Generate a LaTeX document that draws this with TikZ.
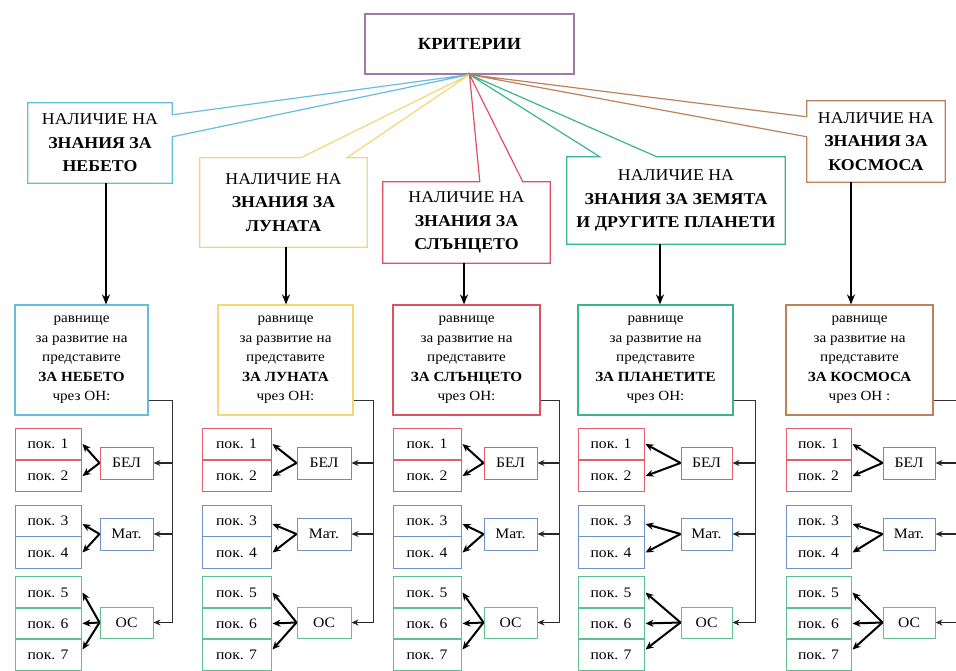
\documentclass[tikz,border=0pt]{standalone}
\usepackage{fontspec}
\setmainfont[FakeStretch=1.08]{Liberation Serif}
\usetikzlibrary{arrows.meta,calc}
\definecolor{ctop}{HTML}{A078AA}
\definecolor{cbl}{HTML}{64BEDC}
\definecolor{cye}{HTML}{F5D778}
\definecolor{cre}{HTML}{E05064}
\definecolor{cgr}{HTML}{3CB48C}
\definecolor{cbr}{HTML}{BE825A}
\definecolor{pre}{HTML}{E0606E}
\definecolor{pbl}{HTML}{7090C8}
\definecolor{pgr}{HTML}{60C090}
\tikzset{
  topbox/.style={draw=ctop, line width=1.1pt, minimum width=209pt, minimum height=60pt, font=\fontsize{17}{20}\selectfont\bfseries},
  critn/.style={align=center, inner sep=0pt, font=\fontsize{16.5}{23.5}\selectfont},
  critline/.style={line width=1.2pt},
  lev/.style={draw, line width=1.2pt, fill=white, align=center, inner sep=0pt, minimum height=110pt, font=\fontsize{14}{19.5}\selectfont},
  pok/.style={draw, line width=1pt, inner sep=0pt, minimum height=31.5pt, font=\fontsize{14.5}{16}\selectfont},
  subj/.style={draw, line width=1pt, inner sep=0pt, font=\fontsize{14.5}{16}\selectfont},
  varrow/.style={line width=2.2pt, -{Stealth[length=10pt,width=8pt]}},
  trunk/.style={line width=1pt, draw=black!80},
  tarrow/.style={line width=1.2pt, draw=black!85, -{Stealth[length=7pt,width=6pt]}},
  fan/.style={line width=2pt, -{Stealth[length=8pt,width=7pt]}}
}
\newcommand\lowcol[6]{%
  \node[pok, draw=pre, minimum width=#3pt] (p#1a) at ({#2+#3/2},444) {пок. 1};
  \node[pok, draw=pre, minimum width=#3pt] (p#1b) at ({#2+#3/2},476) {пок. 2};
  \node[pok, draw=pbl, minimum width=#3pt] (p#1c) at ({#2+#3/2},521) {пок. 3};
  \node[pok, draw=pbl, minimum width=#3pt] (p#1d) at ({#2+#3/2},552.5) {пок. 4};
  \node[pok, draw=pgr, minimum width=#3pt] (p#1e) at ({#2+#3/2},592.5) {пок. 5};
  \node[pok, draw=pgr, minimum width=#3pt] (p#1f) at ({#2+#3/2},623.5) {пок. 6};
  \node[pok, draw=pgr, minimum width=#3pt] (p#1g) at ({#2+#3/2},654.5) {пок. 7};
  \node[subj, draw=pre, minimum width=#5pt, minimum height=32pt] (s#1a) at (#4,463) {БЕЛ};
  \node[subj, draw=pbl, minimum width=#5pt, minimum height=32pt] (s#1b) at (#4,534) {Мат.};
  \node[subj, draw=pgr, minimum width=#5pt, minimum height=31pt] (s#1c) at (#4,622.5) {ОС};
  \coordinate (t#1) at (#6,622.5);
  \draw[trunk] ([yshift=15pt]l#1.south east) -| (t#1);
  \draw[tarrow] (s#1a.east -| t#1) -- (s#1a.east);
  \draw[tarrow] (s#1b.east -| t#1) -- (s#1b.east);
  \draw[tarrow] (t#1) -- (s#1c.east);
  \draw[fan] (s#1a.west) -- ([xshift=1pt]p#1a.east);
  \draw[fan] (s#1a.west) -- ([xshift=1pt]p#1b.east);
  \draw[fan] (s#1b.west) -- ([xshift=1pt,yshift=-3pt]p#1c.east);
  \draw[fan] (s#1b.west) -- ([xshift=1pt]p#1d.east);
  \draw[fan] (s#1c.west) -- ([xshift=1pt]p#1e.east);
  \draw[fan] (s#1c.west) -- ([xshift=1pt]p#1f.east);
  \draw[fan] (s#1c.west) -- ([xshift=1pt,yshift=5pt]p#1g.east);
}
\begin{document}
\begin{tikzpicture}[x=1pt,y=-1pt]
\useasboundingbox[fill=white] (0,0) rectangle (956,671);
% top
\node[topbox] (top) at (469.5,44) {КРИТЕРИИ};
% criteria boxes
\node[critn, minimum width=144pt, minimum height=80pt] (k1) at (100,143) {НАЛИЧИЕ НА\\\textbf{ЗНАНИЯ ЗА}\\\textbf{НЕБЕТО}};
\node[critn, minimum width=167pt, minimum height=89pt] (k2) at (283.5,202.5) {НАЛИЧИЕ НА\\\textbf{ЗНАНИЯ ЗА}\\\textbf{ЛУНАТА}};
\node[critn, minimum width=167pt, minimum height=81pt] (k3) at (466.5,222.5) {НАЛИЧИЕ НА\\\textbf{ЗНАНИЯ ЗА}\\\textbf{СЛЪНЦЕТО}};
\node[critn, minimum width=218pt, minimum height=87pt] (k4) at (676,200.5) {НАЛИЧИЕ НА\\\textbf{ЗНАНИЯ ЗА ЗЕМЯТА}\\\textbf{И ДРУГИТЕ ПЛАНЕТИ}};
\node[critn, minimum width=138pt, minimum height=81pt] (k5) at (876,141.5) {НАЛИЧИЕ НА\\\textbf{ЗНАНИЯ ЗА}\\\textbf{КОСМОСА}};
% callout outlines
\draw[critline, cbl] (k1.north west) -- (k1.north east) -- ([yshift=-12pt]k1.north east) -- (top.south) -- ([yshift=-34pt]k1.north east) -- (k1.south east) -- (k1.south west) -- cycle;
\draw[critline, cye] (k2.north west) -- ([xshift=101pt]k2.north west) -- (top.south) -- ([xshift=147pt]k2.north west) -- (k2.north east) -- (k2.south east) -- (k2.south west) -- cycle;
\draw[critline, cre] (k3.north west) -- ([xshift=97pt]k3.north west) -- (top.south) -- ([xshift=140pt]k3.north west) -- (k3.north east) -- (k3.south east) -- (k3.south west) -- cycle;
\draw[critline, cgr] (k4.north west) -- ([xshift=33pt]k4.north west) -- (top.south) -- ([xshift=90pt]k4.north west) -- (k4.north east) -- (k4.south east) -- (k4.south west) -- cycle;
\draw[critline, cbr] (k5.north west) -- (k5.north east) -- (k5.south east) -- (k5.south west) -- ([yshift=-36pt]k5.north west) -- (top.south) -- ([yshift=-16pt]k5.north west) -- cycle;
% level boxes
\node[lev, draw=cbl, minimum width=133pt] (l1) at (81.5,360) {равнище\\за развитие на\\представите\\\textbf{ЗА НЕБЕТО}\\чрез ОН:};
\node[lev, draw=cye, minimum width=135pt] (l2) at (285.5,360) {равнище\\за развитие на\\представите\\\textbf{ЗА ЛУНАТА}\\чрез ОН:};
\node[lev, draw=cre, minimum width=147pt] (l3) at (466.5,360) {равнище\\за развитие на\\представите\\\textbf{ЗА СЛЪНЦЕТО}\\чрез ОН:};
\node[lev, draw=cgr, minimum width=155pt] (l4) at (655.5,360) {равнище\\за развитие на\\представите\\\textbf{ЗА ПЛАНЕТИТЕ}\\чрез ОН:};
\node[lev, draw=cbr, minimum width=147pt] (l5) at (859.5,360) {равнище\\за развитие на\\представите\\\textbf{ЗА КОСМОСА}\\чрез ОН :};
% vertical arrows
\coordinate (a1) at (106,0);
\coordinate (a2) at (286,0);
\coordinate (a3) at (464,0);
\coordinate (a4) at (660,0);
\coordinate (a5) at (851,0);
\foreach \i in {1,...,5}{
  \draw[varrow] (k\i.south -| a\i) -- (l\i.north -| a\i);
}
% lower parts
\lowcol{1}{15}{66}{126.5}{53}{172}
\lowcol{2}{202}{69}{324}{54}{373}
\lowcol{3}{393}{68}{510.5}{53}{559}
\lowcol{4}{578}{66}{706.5}{51}{755}
\lowcol{5}{786}{65}{909}{52}{962}
\end{tikzpicture}
\end{document}
